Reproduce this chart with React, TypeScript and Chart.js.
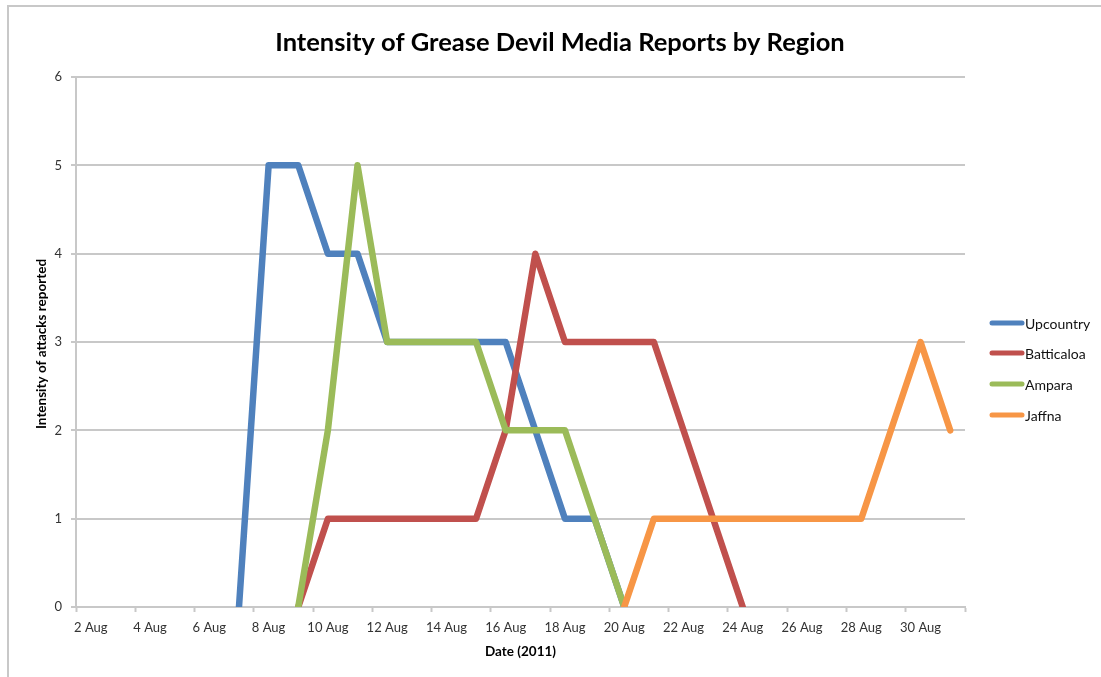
import React, { useEffect, useRef } from 'react';
import { Chart, registerables } from 'chart.js';

Chart.register(...registerables);

const chartTitle = 'Intensity of Grease Devil Media Reports by Region';
const xAxisTitle = 'Date (2011)';
const yAxisTitle = 'Intensity of attacks reported';

const dates = [
  '2 Aug', '3 Aug', '4 Aug', '5 Aug', '6 Aug', '7 Aug', '8 Aug', '9 Aug', '10 Aug', '11 Aug',
  '12 Aug', '13 Aug', '14 Aug', '15 Aug', '16 Aug', '17 Aug', '18 Aug', '19 Aug', '20 Aug', '21 Aug',
  '22 Aug', '23 Aug', '24 Aug', '25 Aug', '26 Aug', '27 Aug', '28 Aug', '29 Aug', '30 Aug', '31 Aug',
];

const seriesNames = ['Upcountry', 'Batticaloa', 'Ampara', 'Jaffna'];
const seriesColors = ['#4F81BD', '#C0504D', '#9BBB59', '#F79646'];

const upcountry = [null, null, null, null, null, 0, 5, 5, 4, 4, 3, 3, 3, 3, 3, 2, 1, 1, 0, null, null, null, null, null, null, null, null, null, null, null];
const batticaloa = [null, null, null, null, null, null, null, 0, 1, 1, 1, 1, 1, 1, 2, 4, 3, 3, 3, 3, 2, 1, 0, null, null, null, null, null, null, null];
const ampara = [null, null, null, null, null, null, null, 0, 2, 5, 3, 3, 3, 3, 2, 2, 2, 1, 0, null, null, null, null, null, null, null, null, null, null, null];
const jaffna = [null, null, null, null, null, null, null, null, null, null, null, null, null, null, null, null, null, null, 0, 1, 1, 1, 1, 1, 1, 1, 1, 2, 3, 2];

const seriesValues = [upcountry, batticaloa, ampara, jaffna];

const yMin = 0;
const yMax = 6;
const yStep = 1;

const FONT = 'Lato, "Open Sans", sans-serif';
const GRID = '#c8c8c8';

const overlayPlugin = {
  id: 'overlay',
  afterDraw(chart: any) {
    const ctx = chart.ctx;
    const a = chart.chartArea;
    ctx.save();
    ctx.fillStyle = '#000';
    ctx.textAlign = 'center';
    ctx.textBaseline = 'middle';
    ctx.font = `bold 25.5px ${FONT}`;
    ctx.fillText(chartTitle, 560, 43);

    ctx.font = `bold 13.5px ${FONT}`;
    ctx.fillText(xAxisTitle, (a.left + a.right) / 2, 652);

    ctx.save();
    ctx.translate(42, 344);
    ctx.rotate(-Math.PI / 2);
    ctx.font = `bold 13.5px ${FONT}`;
    ctx.fillText(yAxisTitle, 0, 0);
    ctx.restore();

    const legendY = [323, 353, 384, 415];
    ctx.font = `14px ${FONT}`;
    ctx.textAlign = 'left';
    seriesNames.forEach((name, i) => {
      ctx.strokeStyle = seriesColors[i];
      ctx.lineWidth = 5;
      ctx.lineCap = 'round';
      ctx.beginPath();
      ctx.moveTo(a.right + 27, legendY[i]);
      ctx.lineTo(a.right + 57, legendY[i]);
      ctx.stroke();
      ctx.fillStyle = '#111';
      ctx.fillText(name, a.right + 60, legendY[i] + 1);
    });
    ctx.restore();
  },
};

export default function App() {
  const ref = useRef<HTMLCanvasElement | null>(null);

  useEffect(() => {
    if (!ref.current) return;
    const chart = new Chart(ref.current, {
      type: 'line',
      data: {
        labels: dates,
        datasets: seriesNames.map((name, i) => ({
          label: name,
          data: seriesValues[i],
          order: seriesNames.length - i,
          borderColor: seriesColors[i],
          backgroundColor: seriesColors[i],
          borderWidth: 6.5,
          borderJoinStyle: 'round',
          borderCapStyle: 'round',
          pointRadius: 0,
          pointHoverRadius: 0,
          tension: 0,
          spanGaps: false,
          fill: false,
        })),
      },
      options: {
        responsive: false,
        animation: false,
        layout: { padding: { top: 77, right: 136, left: 0, bottom: 0 } },
        plugins: {
          legend: { display: false },
          title: { display: false },
          tooltip: { enabled: false },
        },
        scales: {
          x: {
            type: 'category',
            offset: true,
            afterFit: (s: any) => { s.height = 70; },
            grid: {
              offset: true,
              drawOnChartArea: false,
              drawTicks: true,
              tickLength: 5,
              tickWidth: 2,
              tickColor: (c: any) => (c.index === undefined || c.index % 2 === 0 ? GRID : 'rgba(0,0,0,0)'),
            },
            border: { display: true, color: GRID, width: 2 },
            ticks: {
              autoSkip: false,
              maxRotation: 0,
              minRotation: 0,
              padding: 8,
              color: '#333',
              font: { family: FONT, size: 13 },
              callback: (_v: any, i: number) => (i % 2 === 0 ? dates[i] : ''),
            },
          },
          y: {
            min: yMin,
            max: yMax,
            afterFit: (s: any) => { s.width = 76; },
            grid: {
              color: GRID,
              lineWidth: 2,
              drawTicks: true,
              tickLength: 5,
              tickColor: GRID,
            },
            border: { display: true, color: GRID, width: 2 },
            ticks: {
              stepSize: yStep,
              padding: 9,
              color: '#333',
              font: { family: FONT, size: 13 },
            },
          },
        },
      },
      plugins: [overlayPlugin],
    } as any);
    return () => chart.destroy();
  }, []);

  return (
    <div style={{ position: 'fixed', left: 0, top: 0, width: 1101, height: 677, background: '#fff' }}>
      <div style={{ position: 'absolute', left: 7, top: 5, width: 1094, height: 2, background: GRID }} />
      <div style={{ position: 'absolute', left: 7, top: 5, width: 2, height: 672, background: GRID }} />
      <canvas ref={ref} width={1101} height={677} style={{ position: 'absolute', left: 0, top: 0, width: 1101, height: 677 }} />
    </div>
  );
}
